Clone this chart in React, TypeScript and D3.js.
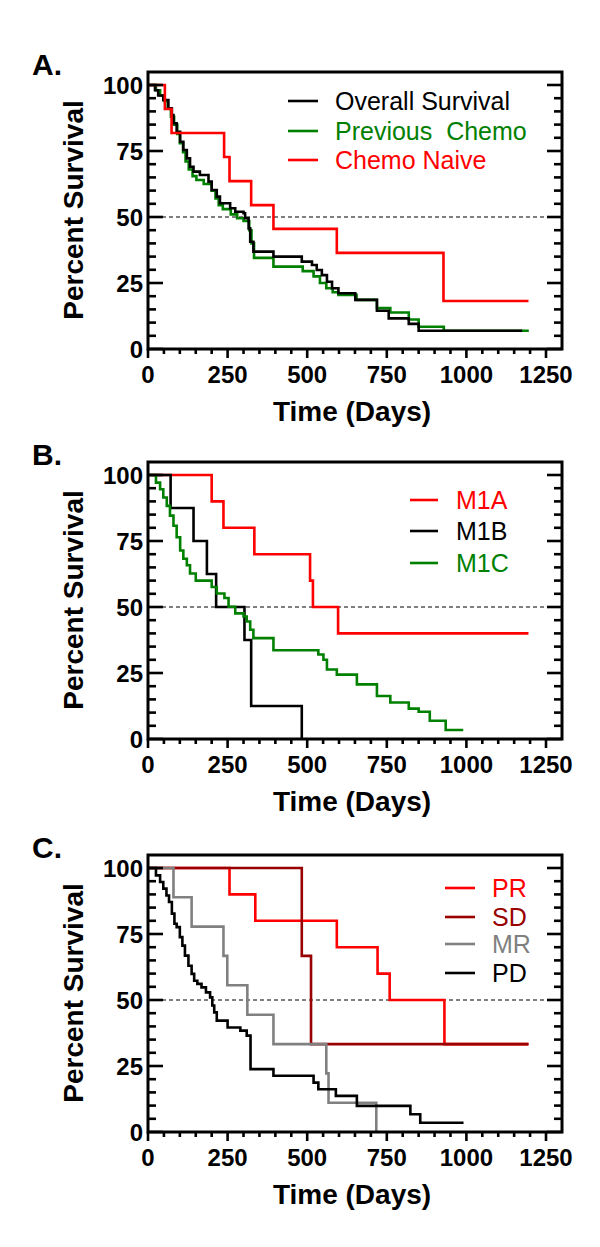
import React from "react";
import * as d3 from "d3";

// ---------- data ----------
const xTicks = [0, 250, 500, 750, 1000, 1250];
const yTicks = [0, 25, 50, 75, 100];

// Panel A
const overallTimes = [0, 22, 32, 48, 64, 75, 80, 90, 101, 111, 122, 132, 143, 163, 190, 200, 216, 226, 258, 274, 300, 305, 316, 321, 331, 394, 483, 515, 530, 546, 562, 578, 598, 651, 719, 756, 819, 850];
const overallSurv = [100, 98, 96, 94.3, 91.2, 88.6, 85.5, 82.3, 78.5, 75.4, 72.2, 69, 67.2, 65.9, 63.4, 60.2, 57.7, 55.2, 53.3, 52, 51.4, 49.5, 45.7, 40.6, 36.9, 35, 33.1, 31.8, 29.9, 28, 25.5, 23, 21.1, 18.6, 14.5, 11.6, 9.5, 6.9];
const overallEnd = 1175;

const prevTimes = [0, 25, 38, 50, 62, 72, 82, 92, 100, 110, 118, 128, 140, 152, 175, 200, 212, 222, 235, 260, 280, 300, 318, 325, 333, 394, 486, 520, 540, 560, 580, 598, 655, 719, 761, 819, 850, 929];
const prevSurv = [100, 98, 96, 94, 91, 88, 85, 81.5, 78, 74.5, 71, 68, 65.5, 64, 62.5, 60, 57, 54.5, 53, 51, 49.5, 48.5, 45, 40, 34.5, 31.2, 29.5, 27.5, 25, 23, 21.5, 20.5, 18.6, 15.5, 13.8, 11.2, 8.4, 6.9];
const prevEnd = 1196;

const naiveTimes = [0, 53, 74, 239, 256, 324, 394, 593, 928];
const naiveSurv = [100, 90.9, 81.8, 72.7, 63.6, 54.5, 45.5, 36.4, 18.2];
const naiveEnd = 1195;

// Panel B
const m1aTimes = [0, 200, 237, 334, 509, 518, 597];
const m1aSurv = [100, 90, 80, 70, 60, 50, 40];
const m1aEnd = 1195;

const m1bTimes = [0, 71, 143, 185, 214, 303, 324, 483];
const m1bSurv = [100, 87.5, 75, 62.5, 50, 37.5, 12.5, 0];
const m1bEnd = 483;

const m1cTimes = [0, 25, 38, 48, 59, 69, 80, 90, 101, 111, 122, 132, 150, 200, 216, 240, 253, 274, 300, 310, 321, 331, 394, 535, 551, 562, 593, 656, 719, 761, 819, 850, 885, 935];
const m1cSurv = [100, 97.1, 94.6, 91.5, 88.3, 84.6, 80.8, 76.4, 71.4, 68.3, 65.8, 62.7, 60, 57.6, 55.1, 53.4, 50.1, 47.6, 46.4, 44.5, 41.4, 38.2, 33.6, 32, 30, 26.3, 24.4, 20.7, 16.3, 13.8, 11.5, 10.3, 6.9, 3.4];
const m1cEnd = 990;

// Panel C
const prTimes = [0, 256, 337, 593, 721, 759, 931];
const prSurv = [100, 90, 80, 70, 60, 50, 33.3];
const prEnd = 1195;

const sdTimes = [0, 483, 512];
const sdSurv = [100, 66.7, 33.3];
const sdEnd = 1195;

const mrTimes = [0, 80, 137, 237, 249, 312, 394, 560, 567, 717];
const mrSurv = [100, 88.9, 77.8, 66.7, 55.6, 44.4, 33.3, 22.2, 11.1, 0];
const mrEnd = 717;

const pdTimes = [0, 25, 38, 48, 58, 66, 75, 83, 90, 100, 108, 116, 127, 137, 145, 155, 168, 182, 195, 202, 208, 216, 250, 290, 310, 322, 394, 520, 535, 590, 656, 824, 855];
const pdSurv = [100, 97.2, 94.7, 92.2, 89.6, 87.1, 82.7, 78.9, 77.6, 73.8, 70.6, 66.8, 63, 59.9, 57.3, 56.1, 54.8, 52.9, 51, 47.9, 45.3, 42.2, 39.6, 38.4, 36.5, 23.8, 21.3, 18.7, 16.2, 13.7, 9.9, 6.7, 3.5];
const pdEnd = 991;

// ---------- layout ----------
const FONT = "'Liberation Sans', Arial, Helvetica, sans-serif";
const X0 = 148;
const X1250 = 546;
const XR = 562;

type Series = { name: string; color: string; times: number[]; surv: number[]; end: number };

const panels = [
  {
    letter: "A.",
    top: 72,
    draw: [
      { name: "Previous  Chemo", color: "#008000", times: prevTimes, surv: prevSurv, end: prevEnd },
      { name: "Overall Survival", color: "#000000", times: overallTimes, surv: overallSurv, end: overallEnd },
      { name: "Chemo Naive", color: "#ff0000", times: naiveTimes, surv: naiveSurv, end: naiveEnd },
    ] as Series[],
    legendOrder: [1, 0, 2],
    legend: { lx0: 288, lx1: 318, tx: 335, baselines: [38, 68, 97] },
  },
  {
    letter: "B.",
    top: 462,
    draw: [
      { name: "M1A", color: "#ff0000", times: m1aTimes, surv: m1aSurv, end: m1aEnd },
      { name: "M1B", color: "#000000", times: m1bTimes, surv: m1bSurv, end: m1bEnd },
      { name: "M1C", color: "#008000", times: m1cTimes, surv: m1cSurv, end: m1cEnd },
    ] as Series[],
    legendOrder: [0, 1, 2],
    legend: { lx0: 410, lx1: 438, tx: 456, baselines: [47, 78, 110] },
  },
  {
    letter: "C.",
    top: 855,
    draw: [
      { name: "PR", color: "#ff0000", times: prTimes, surv: prSurv, end: prEnd },
      { name: "SD", color: "#990000", times: sdTimes, surv: sdSurv, end: sdEnd },
      { name: "MR", color: "#808080", times: mrTimes, surv: mrSurv, end: mrEnd },
      { name: "PD", color: "#000000", times: pdTimes, surv: pdSurv, end: pdEnd },
    ] as Series[],
    legendOrder: [0, 1, 2, 3],
    legend: { lx0: 445, lx1: 475, tx: 492, baselines: [42, 71, 98, 127] },
  },
];

function Panel({ p }: { p: (typeof panels)[number] }) {
  const top = p.top;
  const x = d3.scaleLinear().domain([0, 1250]).range([X0, X1250]);
  const y = d3.scaleLinear().domain([0, 100]).range([top + 277, top + 13]);
  const yBottom = y(0);
  const line = d3
    .line<[number, number]>()
    .x((d) => x(d[0]))
    .y((d) => y(d[1]))
    .curve(d3.curveStepAfter);

  const minorY = d3.range(0, 101, 5);
  const minorX = d3.range(0, 1251, 50);

  return (
    <g>
      <text x={32} y={top + 3} fontFamily={FONT} fontWeight="bold" fontSize={30}>
        {p.letter}
      </text>
      {/* dashed 50% line */}
      <line x1={X0} x2={XR} y1={y(50)} y2={y(50)} stroke="#000" strokeWidth={1} strokeDasharray="4,3" />
      {/* curves */}
      {p.draw.map((s, i) => {
        const pts: [number, number][] = s.times.map((t, j) => [t, s.surv[j]] as [number, number]);
        pts.push([s.end, s.surv[s.surv.length - 1]]);
        return <path key={i} d={line(pts) || ""} fill="none" stroke={s.color} strokeWidth={2.6} />;
      })}
      {/* frame */}
      <rect x={X0} y={top} width={XR - X0} height={yBottom - top} fill="none" stroke="#000" strokeWidth={3} />
      {/* y ticks left (inward) and right (inward) */}
      {minorY.map((v) => {
        const major = v % 25 === 0;
        const len = major ? 15 : 8;
        return (
          <g key={"y" + v}>
            <line x1={X0} x2={X0 + len} y1={y(v)} y2={y(v)} stroke="#000" strokeWidth={2.6} />
            <line x1={XR} x2={XR - len} y1={y(v)} y2={y(v)} stroke="#000" strokeWidth={2.6} />
          </g>
        );
      })}
      {/* x ticks (outward) */}
      {minorX.map((v) => {
        const major = v % 250 === 0;
        const len = major ? 9 : 5;
        return <line key={"x" + v} x1={x(v)} x2={x(v)} y1={yBottom} y2={yBottom + len} stroke="#000" strokeWidth={2.6} />;
      })}
      {/* y tick labels */}
      {yTicks.map((v) => (
        <text key={"yl" + v} x={143} y={y(v)} dy="0.36em" textAnchor="end" fontFamily={FONT} fontWeight="bold" fontSize={24}>
          {v}
        </text>
      ))}
      {/* x tick labels */}
      {xTicks.map((v) => (
        <text key={"xl" + v} x={x(v)} y={top + 311} textAnchor="middle" fontFamily={FONT} fontWeight="bold" fontSize={24}>
          {v}
        </text>
      ))}
      {/* axis titles */}
      <text x={352} y={top + 349} textAnchor="middle" fontFamily={FONT} fontWeight="bold" fontSize={28}>
        Time (Days)
      </text>
      <text
        transform={`translate(83, ${top + 138}) rotate(-90)`}
        textAnchor="middle"
        fontFamily={FONT}
        fontWeight="bold"
        fontSize={28}
      >
        Percent Survival
      </text>
      {/* legend */}
      {p.legendOrder.map((idx, k) => {
        const s = p.draw[idx];
        const b = top + p.legend.baselines[k];
        return (
          <g key={"lg" + k}>
            <line x1={p.legend.lx0} x2={p.legend.lx1} y1={b - 9} y2={b - 9} stroke={s.color} strokeWidth={2.6} />
            <text x={p.legend.tx} y={b} fill={s.color} fontFamily={FONT} fontSize={25} style={{ whiteSpace: "pre" }}>
              {s.name}
            </text>
          </g>
        );
      })}
    </g>
  );
}

export default function App() {
  return (
    <svg
      width={600}
      height={1247}
      viewBox="0 0 600 1247"
      style={{ position: "absolute", left: 0, top: 0, display: "block", background: "#fff" }}
    >
      <rect x={0} y={0} width={600} height={1247} fill="#fff" />
      {panels.map((p, i) => (
        <Panel key={i} p={p} />
      ))}
    </svg>
  );
}
